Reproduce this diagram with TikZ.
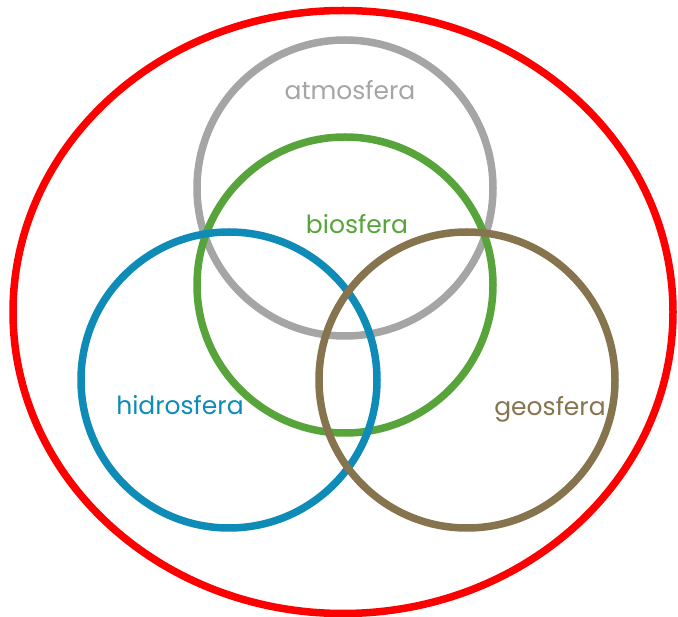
\documentclass[tikz,border=0pt]{standalone}
\usepackage{fontspec}
\setmainfont{Poppins}
\definecolor{cgray}{HTML}{A5A5A5}
\definecolor{cgreen}{HTML}{56A43A}
\definecolor{cblue}{HTML}{0E8BB6}
\definecolor{cbrown}{HTML}{86744F}
\begin{document}
\begin{tikzpicture}[x=1pt,y=-1pt,
  ring/.style={line width=7.5pt},
  lbl/.style={font=\fontsize{25}{27}\selectfont, anchor=base, inner sep=0pt}]
\useasboundingbox (0,0) rectangle (678,617);
\draw[ring, red] (343,312) ellipse [x radius=330, y radius=301.5];
\draw[ring, cgray] (345,188) circle [radius=148];
\draw[ring, cgreen] (345,285) circle [radius=148];
\draw[ring, cblue] (229,380) circle [radius=148];
\draw[ring, cbrown] (467,380) circle [radius=148];
\node[lbl, text=cgray] (atm) at (350,100) {atmosfera};
\node[lbl, text=cgreen] (bio) at (357,234) {biosfera};
\node[lbl, text=cblue] (hid) at (180,415) {hidrosfera};
\node[lbl, text=cbrown] (geo) at (550,415.5) {geosfera};
\end{tikzpicture}
\end{document}
